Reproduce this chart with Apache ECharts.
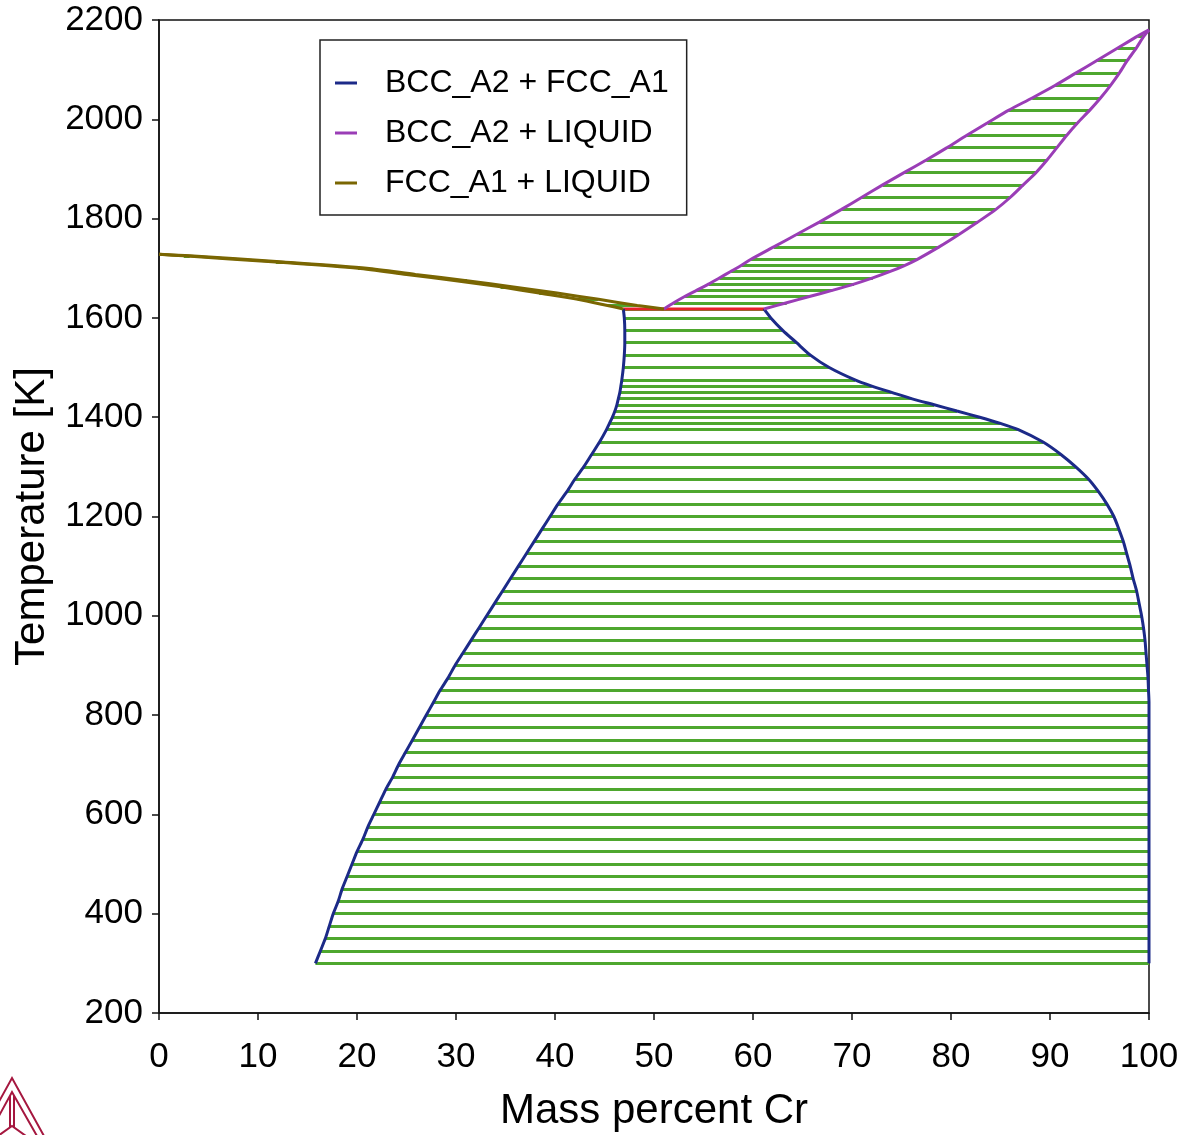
<!DOCTYPE html>
<html>
<head>
<meta charset="utf-8">
<script src="https://cdn.jsdelivr.net/npm/echarts@6/dist/echarts.min.js"></script>
<style>
  html, body { margin: 0; padding: 0; background: #ffffff; }
  #chart { width: 1191px; height: 1135px; }
</style>
</head>
<body>
<div id="chart"></div>
<script>
// Ni–Cr phase diagram: two-phase regions with their tie-lines.

// BCC_A2 + FCC_A1 region: tie-line temperatures and both phase boundaries (mass % Cr)
const fccBccTemps = [300, 325, 350, 375, 400, 425, 450, 475, 500, 525, 550, 575, 600, 625, 650, 675,
  700, 725, 750, 775, 800, 825, 850, 875, 900, 925, 950, 975, 1000, 1025, 1050, 1075, 1100, 1125,
  1150, 1175, 1200, 1225, 1250, 1275, 1300, 1325, 1350, 1375, 1387.5, 1400, 1412.5, 1425, 1437.5,
  1450, 1462.5, 1475, 1500, 1525, 1550, 1575, 1600, 1618];
const fccBoundary = [15.8, 16.3, 16.8, 17.2, 17.6, 18.1, 18.5, 19.0, 19.5, 20.0, 20.6, 21.1, 21.7, 22.3,
  22.9, 23.6, 24.2, 24.9, 25.6, 26.3, 27.0, 27.7, 28.4, 29.2, 29.9, 30.7, 31.5, 32.3, 33.1, 33.9, 34.7,
  35.5, 36.3, 37.1, 37.9, 38.7, 39.5, 40.3, 41.2, 42.0, 42.9, 43.7, 44.5, 45.2, 45.5, 45.8, 46.05, 46.25,
  46.4, 46.55, 46.65, 46.75, 46.9, 47.0, 47.05, 47.05, 47.0, 46.9];
const bccBoundary = [100, 100, 100, 100, 100, 100, 100, 100, 100, 100, 100, 100, 100, 100, 100, 100,
  100, 100, 100, 100, 100, 100, 99.95, 99.9, 99.8, 99.7, 99.6, 99.45, 99.25, 99.0, 98.75, 98.4, 98.1,
  97.75, 97.4, 96.95, 96.45, 95.75, 94.9, 93.9, 92.6, 91.1, 89.3, 86.8, 85.0, 82.9, 80.6, 78.3, 76.0, 74.0,
  72.0, 70.3, 67.7, 65.8, 64.4, 63.0, 61.8, 61.1];

// BCC_A2 + LIQUID region
const bccLiqTemps = [1618, 1630.5, 1643, 1655.5, 1668, 1680.5, 1693, 1705.5, 1718, 1743, 1768, 1793,
  1818, 1843, 1868, 1893, 1918, 1943, 1968, 1993, 2018, 2043, 2068, 2093, 2118, 2143, 2168, 2180];
const bccLiquidus = [51.0, 52.0, 53.1, 54.3, 55.5, 56.6, 57.7, 58.8, 59.8, 62.1, 64.4, 66.7, 68.9, 71.0,
  73.1, 75.3, 77.5, 79.6, 81.6, 83.7, 85.8, 88.2, 90.5, 92.6, 94.7, 96.8, 98.9, 100];
const bccSolidus = [61.1, 63.4, 65.7, 68.0, 70.2, 72.1, 73.8, 75.3, 76.6, 78.8, 80.8, 82.7, 84.5, 86.0,
  87.3, 88.6, 89.7, 90.7, 91.7, 92.8, 94.0, 95.1, 96.1, 97.0, 97.8, 98.7, 99.5, 100];

// FCC_A1 + LIQUID region
const fccLiqTemps = [1618, 1625, 1637.5, 1650, 1662.5, 1675, 1687.5, 1700, 1712.5, 1725, 1728];
const fccLiquidus = [51.0, 48.3, 44.4, 40.2, 35.8, 31.1, 25.9, 21.0, 12.6, 3.1, 0];
const fccSolidus = [46.9, 45.3, 42.3, 38.4, 34.5, 30.0, 25.0, 20.1, 11.8, 2.5, 0];

// Three-phase (BCC + FCC + LIQUID) invariant line
const invariantTemp = 1618;
const invariantEnds = [46.9, 61.1];

// Axis ticks
const xTicks = { min: 0, max: 100, step: 10 };
const yTicks = { min: 200, max: 2200, step: 200 };

const FONT = '"Liberation Sans", Arial, sans-serif';
const NAVY = '#1c2a88';
const PURPLE = '#9a3db6';
const OLIVE = '#7a6602';
const GREEN = '#4ea72e';
const RED = '#e8212b';

function curve(xs, ts) { return xs.map((x, i) => [x, ts[i]]); }
function ties(left, right, ts, skipEnds) {
  const out = [];
  for (let i = 0; i < ts.length; i++) {
    if (skipEnds && (i === 0 || i === ts.length - 1)) continue;
    out.push({ coords: [[left[i], ts[i]], [right[i], ts[i]]] });
  }
  return out;
}

function boundary(name, data, color) {
  return {
    type: 'line', name: name, data: data, showSymbol: false, symbol: 'none',
    smooth: 0.25,
    lineStyle: { color: color, width: 3 }, itemStyle: { color: color },
    z: 5, silent: true, animation: false
  };
}
function tieSeries(data) {
  return {
    type: 'lines', coordinateSystem: 'cartesian2d', polyline: false, data: data,
    lineStyle: { color: GREEN, width: 3, opacity: 1 }, z: 2, silent: true, animation: false
  };
}

const chart = echarts.init(document.getElementById('chart'), null, { renderer: 'canvas' });

const option = {
  backgroundColor: '#ffffff',
  animation: false,
  grid: {
    left: 159, right: 42, top: 20, bottom: 122,
    outerBoundsMode: 'none', containLabel: false,
    show: true, borderColor: '#111', borderWidth: 1.5, backgroundColor: 'transparent'
  },
  legend: {
    data: ['BCC_A2 + FCC_A1', 'BCC_A2 + LIQUID', 'FCC_A1 + LIQUID'],
    orient: 'vertical', left: 320, top: 40,
    backgroundColor: '#ffffff', borderColor: '#222', borderWidth: 1.5,
    padding: [25, 18, 14, 15], itemGap: 14,
    icon: 'rect', itemWidth: 22, itemHeight: 3,
    textStyle: { fontFamily: FONT, fontSize: 32, lineHeight: 36, color: '#000', padding: [0, 0, 0, 23] },
    selectedMode: false
  },
  xAxis: {
    type: 'value', min: xTicks.min, max: xTicks.max, interval: xTicks.step,
    name: 'Mass percent Cr', nameLocation: 'middle', nameGap: 77,
    nameTextStyle: { fontFamily: FONT, fontSize: 42, color: '#000' },
    axisLine: { show: true, onZero: false, lineStyle: { color: '#111', width: 1.5 } },
    axisTick: { show: true, inside: false, length: 7, lineStyle: { color: '#111', width: 1.5 } },
    axisLabel: { fontFamily: FONT, fontSize: 35, color: '#000', margin: 27, formatter: v => String(v) },
    splitLine: { show: false }
  },
  yAxis: {
    type: 'value', min: yTicks.min, max: yTicks.max, interval: yTicks.step,
    name: 'Temperature [K]', nameLocation: 'middle', nameGap: 106,
    nameTextStyle: { fontFamily: FONT, fontSize: 42, color: '#000' },
    axisLine: { show: true, onZero: false, lineStyle: { color: '#111', width: 1.5 } },
    axisTick: { show: true, inside: false, length: 7, lineStyle: { color: '#111', width: 1.5 } },
    axisLabel: { fontFamily: FONT, fontSize: 35, color: '#000', margin: 16, formatter: v => String(v) },
    splitLine: { show: false }
  },
  series: [
    tieSeries(ties(fccBoundary, bccBoundary, fccBccTemps, false)),
    tieSeries(ties(bccLiquidus, bccSolidus, bccLiqTemps, true)),
    tieSeries(ties(fccSolidus, fccLiquidus, fccLiqTemps, true)),
    {
      type: 'line', name: 'invariant', data: invariantEnds.map(x => [x, invariantTemp]),
      showSymbol: false, symbol: 'none', lineStyle: { color: RED, width: 3 }, z: 4, silent: true
    },
    boundary('BCC_A2 + FCC_A1', curve(fccBoundary, fccBccTemps), NAVY),
    boundary('BCC_A2 + FCC_A1', curve(bccBoundary, fccBccTemps), NAVY),
    boundary('BCC_A2 + LIQUID', curve(bccLiquidus, bccLiqTemps), PURPLE),
    boundary('BCC_A2 + LIQUID', curve(bccSolidus, bccLiqTemps), PURPLE),
    boundary('FCC_A1 + LIQUID', curve(fccLiquidus, fccLiqTemps), OLIVE),
    boundary('FCC_A1 + LIQUID', curve(fccSolidus, fccLiqTemps), OLIVE)
  ],
  graphic: [
    // small triangular mark in the lower-left corner
    { type: 'polyline', shape: { points: [[-20, 1136], [12, 1078], [44, 1136]] }, style: { stroke: '#a5173f', lineWidth: 2, fill: null } },
    { type: 'polyline', shape: { points: [[-12, 1136], [12, 1092], [37, 1136]] }, style: { stroke: '#a5173f', lineWidth: 2, fill: null } },
    { type: 'polyline', shape: { points: [[10, 1096], [10, 1128]] }, style: { stroke: '#a5173f', lineWidth: 2, fill: null } },
    { type: 'polyline', shape: { points: [[14, 1096], [14, 1128]] }, style: { stroke: '#a5173f', lineWidth: 2, fill: null } },
    { type: 'polyline', shape: { points: [[-2, 1136], [12, 1126], [26, 1136]] }, style: { stroke: '#a5173f', lineWidth: 2, fill: null } }
  ]
};

chart.setOption(option);
</script>
</body>
</html>
